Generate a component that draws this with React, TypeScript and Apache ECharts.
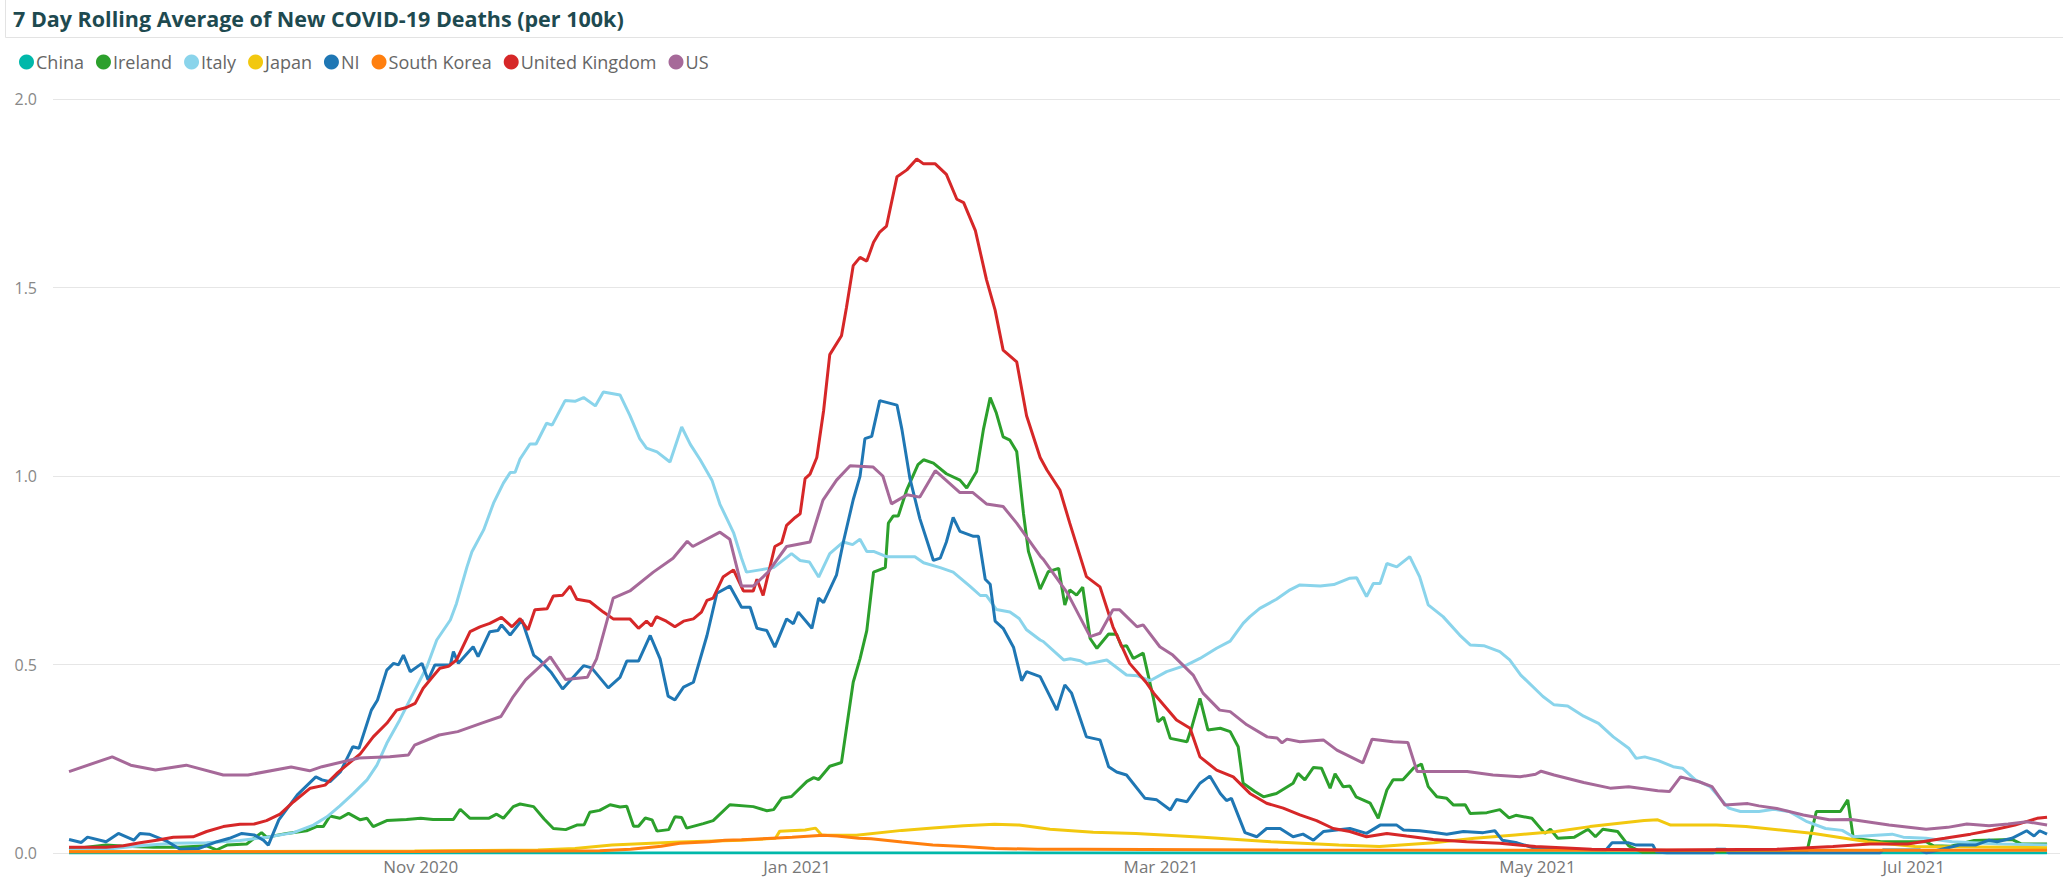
import React, { useEffect, useRef } from 'react';
import * as echarts from 'echarts';

// Day 0 = 1 Sep 2020; each pair is [day offset, 7-day average deaths per 100k]
const COUNTRIES = ['China', 'Ireland', 'Italy', 'Japan', 'NI', 'South Korea', 'United Kingdom', 'US'];
const COLORS = ['#01B8AA', '#2CA02C', '#8AD4EB', '#F2C80F', '#1F77B4', '#FF7F0E', '#D62728', '#A66999'];

const CHINA = [[4, 0], [80, 0], [160, 0], [240, 0], [324.6, 0]];

const IRELAND = [
  [4, 0.01], [10, 0.021], [13, 0.018], [17.7, 0.015], [22, 0.015], [26.3, 0.019], [27.9, 0.008], [29.6, 0.021],
  [32.8, 0.024], [35.2, 0.054], [36, 0.042], [39.3, 0.052], [42.5, 0.059], [44.1, 0.07], [45.2, 0.07], [46.3, 0.098],
  [47.9, 0.092], [49.3, 0.105], [51.2, 0.088], [52.3, 0.092], [53.3, 0.07], [55.5, 0.086], [58.7, 0.089], [61, 0.092],
  [63, 0.089], [66.3, 0.089], [67.4, 0.116], [69, 0.092], [72, 0.092], [73.3, 0.103], [74.4, 0.092], [76, 0.123],
  [77.1, 0.13], [79.3, 0.123], [81, 0.09], [82.5, 0.065], [84.5, 0.062], [86.3, 0.074], [87.5, 0.075], [88.4, 0.108],
  [90, 0.113], [91.7, 0.128], [93.3, 0.122], [94.4, 0.124], [95.5, 0.071], [96.3, 0.071], [97.4, 0.093], [98.5, 0.088],
  [99.3, 0.058], [101.2, 0.062], [102.2, 0.096], [103.3, 0.094], [104.1, 0.066], [106.8, 0.078], [108.4, 0.086],
  [111.1, 0.128], [114.9, 0.123], [117.1, 0.112], [118.2, 0.115], [119.5, 0.145], [121.1, 0.15], [123.6, 0.19],
  [124.7, 0.2], [125.5, 0.195], [127.3, 0.23], [129.2, 0.24], [131.1, 0.453], [132.2, 0.515], [133.3, 0.59],
  [134.4, 0.745], [136.3, 0.757], [136.8, 0.875], [137.6, 0.894], [138.4, 0.894], [139.8, 0.964], [141.6, 1.03],
  [142.5, 1.043], [144.1, 1.034], [146.2, 1.006], [148.4, 0.989], [149.5, 0.968], [151.1, 1.012], [152.2, 1.123],
  [153.3, 1.208], [154.3, 1.167], [155.4, 1.104], [156.5, 1.095], [157.6, 1.065], [158.7, 0.9], [159.5, 0.8],
  [161.4, 0.7], [162.7, 0.746], [164.4, 0.755], [165.4, 0.658], [166.2, 0.698], [167.3, 0.684], [168.3, 0.705],
  [169.5, 0.569], [170.6, 0.543], [172.5, 0.581], [173.8, 0.58], [174.6, 0.547], [175.4, 0.55], [176.5, 0.516],
  [178.1, 0.53], [179.7, 0.415], [180.5, 0.348], [181.4, 0.36], [182.5, 0.304], [185.2, 0.295], [186, 0.335],
  [187.3, 0.41], [188.6, 0.326], [190.6, 0.331], [192.2, 0.322], [193.5, 0.282], [194.3, 0.185], [196.2, 0.163],
  [197.6, 0.149], [199.7, 0.158], [202.4, 0.185], [203.2, 0.211], [204.3, 0.194], [205.7, 0.227], [207, 0.225],
  [208.4, 0.172], [209.2, 0.21], [210.5, 0.176], [211.6, 0.178], [212.6, 0.149], [214.9, 0.132], [216.2, 0.092],
  [217.6, 0.167], [218.6, 0.194], [220.2, 0.194], [221.9, 0.225], [223.2, 0.236], [224.3, 0.176], [225.7, 0.149],
  [227.3, 0.145], [228.4, 0.127], [230.3, 0.128], [231.1, 0.105], [233.8, 0.107], [235.9, 0.115], [237.4, 0.093],
  [238.5, 0.1], [241.1, 0.092], [243.2, 0.052], [244.1, 0.063], [245.3, 0.039], [248, 0.042], [250.2, 0.063],
  [251.4, 0.043], [252.6, 0.063], [255, 0.057], [256.8, 0.019], [259, 0.002], [272, 0.003], [285.7, 0.005],
  [287.2, 0.11], [291.1, 0.11], [292.3, 0.141], [293.2, 0.039], [297.7, 0.03], [305, 0.03], [306.2, 0.019],
  [309, 0.018], [312.8, 0.033], [318.9, 0.036], [320.4, 0.024], [324.6, 0.024]
];

const ITALY = [
  [4, 0.008], [10, 0.01], [15.5, 0.019], [20.9, 0.026], [26.3, 0.027], [31.7, 0.033], [36, 0.042], [40.4, 0.054],
  [43.6, 0.074], [45.8, 0.096], [47.9, 0.125], [50.1, 0.158], [52.3, 0.194], [53.9, 0.233], [55.5, 0.291],
  [57.6, 0.353], [59.8, 0.424], [62, 0.494], [63.6, 0.565], [65.8, 0.618], [66.8, 0.662], [68.5, 0.759],
  [69.3, 0.799], [71.2, 0.857], [72.8, 0.928], [74.4, 0.981], [75.5, 1.009], [76.3, 1.01], [77.1, 1.045],
  [78.7, 1.085], [79.7, 1.085], [81.4, 1.14], [82.3, 1.135], [84.4, 1.2], [86, 1.198], [87.4, 1.208], [89.3, 1.186],
  [90.6, 1.223], [93.3, 1.215], [94.9, 1.161], [96.5, 1.099], [97.6, 1.074], [99.3, 1.064], [101.4, 1.037],
  [103.3, 1.13], [104.7, 1.084], [106.3, 1.043], [108.2, 0.989], [109.5, 0.925], [111.7, 0.85], [113, 0.782],
  [113.8, 0.745], [116, 0.751], [118.2, 0.757], [121.1, 0.794], [122.5, 0.776], [124, 0.772], [125.5, 0.732],
  [127.3, 0.794], [129.5, 0.825], [131, 0.818], [132.2, 0.832], [133.3, 0.8], [134.4, 0.8], [136.5, 0.786],
  [141.1, 0.786], [142.5, 0.77], [145.2, 0.757], [147.3, 0.745], [150, 0.708], [151.7, 0.683], [152.7, 0.683],
  [154.3, 0.646], [156.5, 0.639], [158, 0.622], [159.2, 0.592], [161.4, 0.565], [161.9, 0.561], [165.2, 0.512],
  [166.3, 0.515], [167.9, 0.51], [168.9, 0.501], [172.2, 0.512], [175.4, 0.472], [177.2, 0.47], [179.2, 0.457],
  [181.9, 0.481], [185.2, 0.499], [187.3, 0.516], [190, 0.543], [192.2, 0.562], [194.3, 0.609], [195.4, 0.627],
  [197, 0.649], [199.7, 0.673], [201.9, 0.698], [203.5, 0.711], [206.8, 0.708], [209, 0.712], [211.6, 0.729],
  [212.7, 0.73], [214.3, 0.68], [215.4, 0.715], [216.5, 0.715], [217.6, 0.768], [219.2, 0.759], [221.3, 0.786],
  [222.9, 0.733], [224.3, 0.658], [226.7, 0.627], [229.4, 0.578], [231.1, 0.552], [233.3, 0.55], [235.9, 0.534],
  [237.5, 0.512], [239.3, 0.472], [242.9, 0.415], [244.7, 0.393], [246.9, 0.39], [249.5, 0.363], [251.9, 0.344],
  [254.3, 0.308], [256.8, 0.278], [258, 0.251], [259.4, 0.255], [261.6, 0.245], [264, 0.229], [265.5, 0.225],
  [267.6, 0.194], [270, 0.176], [273, 0.119], [274.9, 0.11], [277.9, 0.11], [280.3, 0.116], [282.8, 0.11],
  [285.7, 0.083], [288.7, 0.065], [291.4, 0.06], [293.2, 0.043], [295, 0.045], [299.5, 0.05], [301.3, 0.042],
  [305, 0.039], [309.2, 0.03], [317, 0.024], [324.6, 0.021]
];

const JAPAN = [
  [4, 0.004], [30, 0.004], [60, 0.005], [80, 0.008], [86, 0.012], [92, 0.021], [103, 0.029], [113, 0.034],
  [118.5, 0.039], [119.2, 0.058], [123.3, 0.061], [125, 0.066], [126, 0.047], [131.6, 0.047], [139, 0.06],
  [144, 0.066], [149, 0.072], [154, 0.076], [158, 0.074], [163, 0.063], [170, 0.055], [176.9, 0.052],
  [187.8, 0.042], [198.8, 0.03], [209.8, 0.021], [216.4, 0.017], [225.2, 0.027], [231.8, 0.039], [238.4, 0.048],
  [245, 0.057], [250.5, 0.07], [259.3, 0.086], [261.5, 0.088], [263.6, 0.074], [271, 0.074], [275.8, 0.07],
  [286.8, 0.052], [295.5, 0.03], [303.2, 0.017], [324.6, 0.014]
];

const NI = [
  [4, 0.036], [6, 0.028], [7, 0.042], [10, 0.03], [12, 0.052], [14.5, 0.034], [15.5, 0.052], [17, 0.05],
  [20, 0.03], [22, 0.01], [25, 0.012], [28, 0.03], [30, 0.039], [32, 0.052], [34, 0.048], [35.5, 0.034],
  [36.3, 0.021], [38, 0.088], [41, 0.154], [44, 0.202], [45, 0.194], [46.3, 0.189], [48, 0.216], [50, 0.282],
  [51, 0.278], [53, 0.379], [54, 0.406], [55.5, 0.485], [56.6, 0.503], [57.4, 0.499], [58.2, 0.525],
  [59.3, 0.481], [61.2, 0.503], [62.2, 0.459], [63.3, 0.499], [65.8, 0.499], [66.3, 0.534], [67.1, 0.503],
  [69.5, 0.547], [70.3, 0.521], [72.2, 0.587], [73.5, 0.59], [74.1, 0.605], [75.5, 0.578], [77.4, 0.618],
  [79.3, 0.525], [80.3, 0.512], [82.2, 0.478], [84, 0.435], [87.4, 0.497], [88.7, 0.491], [91.4, 0.438],
  [93.3, 0.466], [94.4, 0.509], [96.3, 0.509], [98.2, 0.577], [99.8, 0.515], [101.1, 0.416], [102.2, 0.406],
  [103.6, 0.44], [105.2, 0.453], [107.4, 0.577], [109, 0.689], [111.1, 0.708], [113, 0.652], [114.4, 0.652],
  [115.5, 0.596], [117.1, 0.59], [118.4, 0.546], [120.3, 0.621], [121.4, 0.608], [122.2, 0.639], [124.4, 0.596],
  [125.5, 0.676], [126.3, 0.664], [128.4, 0.738], [129.5, 0.825], [131.1, 0.937], [132.2, 0.999], [133, 1.099],
  [134.1, 1.105], [135.4, 1.2], [138.2, 1.188], [139, 1.123], [140.3, 0.993], [141.9, 0.887], [144.1, 0.776],
  [145.2, 0.782], [146.2, 0.825], [147.3, 0.89], [148.4, 0.853], [150.6, 0.84], [151.4, 0.84], [152.5, 0.726],
  [153.3, 0.713], [154.1, 0.615], [155.4, 0.596], [157.1, 0.545], [158.4, 0.457], [159.2, 0.481], [161.4, 0.468],
  [164.1, 0.379], [165.4, 0.446], [166.5, 0.424], [168.9, 0.308], [171.1, 0.3], [172.5, 0.229], [173.8, 0.215],
  [175.4, 0.207], [178.4, 0.145], [180.3, 0.141], [182.5, 0.114], [183.5, 0.142], [185.2, 0.136], [187.3, 0.185],
  [188.9, 0.204], [190.6, 0.158], [191.6, 0.139], [192.4, 0.145], [194.6, 0.054], [196.5, 0.043], [198.1, 0.065],
  [200.3, 0.065], [202.4, 0.043], [204, 0.05], [205.7, 0.034], [207.3, 0.057], [211.6, 0.065], [214.3, 0.052],
  [216.5, 0.074], [219.2, 0.074], [220.3, 0.061], [222.9, 0.059], [225, 0.055], [227.3, 0.05], [230, 0.057],
  [233.2, 0.054], [235.1, 0.059], [236.3, 0.034], [238.7, 0.027], [241.7, 0.012], [253.1, 0.008], [254.1, 0.027],
  [256.8, 0.027], [258, 0.021], [260.7, 0.021], [261.3, 0.003], [263, 0], [270.5, 0], [271, 0.01], [272.5, 0.01],
  [273, 0], [297.5, 0], [298, 0.008], [304, 0.008], [305, 0], [310.4, 0.021], [313, 0.021], [315.2, 0.034],
  [316.5, 0.03], [318.9, 0.039], [321.3, 0.059], [322.5, 0.045], [323.4, 0.059], [324.6, 0.05]
];

const SOUTH_KOREA = [
  [4, 0.003], [60, 0.004], [90, 0.006], [95, 0.01], [100, 0.018], [103, 0.026], [107.8, 0.03], [110.3, 0.034],
  [113, 0.035], [121.2, 0.042], [126.2, 0.047], [128.5, 0.045], [132, 0.039], [134, 0.038], [139, 0.029],
  [144, 0.021], [149, 0.017], [154, 0.012], [161, 0.01], [168, 0.01], [200, 0.008], [250, 0.007], [300, 0.007],
  [324.6, 0.007]
];

const UK = [
  [4, 0.015], [10, 0.015], [12.8, 0.019], [15.5, 0.027], [18.2, 0.034], [20.9, 0.042], [24.1, 0.043], [26.3, 0.057],
  [29, 0.07], [31.7, 0.076], [34, 0.077], [36, 0.086], [38.2, 0.103], [40.4, 0.136], [43.1, 0.172], [45.5, 0.18],
  [47.4, 0.211], [49, 0.233], [51.2, 0.263], [53.3, 0.308], [55.5, 0.344], [57.1, 0.379], [58.7, 0.386],
  [60.1, 0.397], [61.4, 0.437], [63, 0.469], [64.1, 0.49], [65.5, 0.495], [66.8, 0.512], [69, 0.587], [70.6, 0.6],
  [72.2, 0.609], [74.1, 0.625], [75.8, 0.6], [77.1, 0.622], [78.4, 0.592], [79.5, 0.645], [81.5, 0.648],
  [82.5, 0.682], [84, 0.684], [85.2, 0.708], [86.3, 0.673], [88.4, 0.667], [90.6, 0.639], [92.2, 0.621],
  [94.9, 0.621], [96.3, 0.596], [97.6, 0.615], [98.4, 0.602], [99.2, 0.627], [100.8, 0.615], [102.2, 0.6],
  [103.6, 0.615], [105.2, 0.621], [106.5, 0.639], [107.4, 0.67], [108.4, 0.676], [110, 0.732], [111.7, 0.751],
  [113.3, 0.695], [114.9, 0.695], [115.5, 0.726], [116.5, 0.683], [118.4, 0.813], [119.5, 0.823], [120.3, 0.869],
  [121.7, 0.89], [122.5, 0.9], [123.3, 0.993], [124.1, 1.005], [125.2, 1.049], [126.3, 1.173], [127.3, 1.322],
  [129.2, 1.372], [130, 1.446], [131.1, 1.558], [132.2, 1.58], [133.3, 1.57], [134.4, 1.62], [135.4, 1.647],
  [136.5, 1.663], [138.2, 1.794], [139.8, 1.812], [141.4, 1.841], [142.5, 1.828], [144.4, 1.828], [146.2, 1.8],
  [147.9, 1.734], [149, 1.725], [150.9, 1.651], [152.7, 1.521], [154.1, 1.44], [155.4, 1.334], [157.6, 1.303],
  [159.2, 1.16], [161.4, 1.049], [162.5, 1.016], [164.6, 0.963], [166.2, 0.875], [168.9, 0.733], [171.1, 0.706],
  [173.2, 0.6], [175.9, 0.503], [178.7, 0.45], [179.8, 0.424], [183.5, 0.353], [185.7, 0.331], [187.3, 0.255],
  [190, 0.22], [192.7, 0.202], [195.4, 0.158], [198.1, 0.132], [200.8, 0.119], [203.5, 0.101], [206.2, 0.086],
  [208.9, 0.065], [211.6, 0.057], [214.3, 0.043], [217.6, 0.052], [220.8, 0.045], [225.1, 0.036], [230.5, 0.03],
  [235.9, 0.026], [241.7, 0.017], [250.8, 0.01], [263, 0.008], [280.8, 0.01], [289.9, 0.017], [295.9, 0.024],
  [302, 0.024], [308, 0.039], [312.2, 0.05], [315.8, 0.061], [319.4, 0.074], [323, 0.092], [324.6, 0.095]
];

const US = [
  [4, 0.216], [11, 0.255], [14, 0.233], [18, 0.22], [23, 0.233], [29, 0.207], [33, 0.207], [40, 0.228],
  [43, 0.218], [45, 0.229], [51, 0.252], [56, 0.255], [59, 0.26], [60, 0.286], [64, 0.313], [67, 0.322],
  [71, 0.345], [74, 0.362], [76, 0.415], [78, 0.459], [82, 0.52], [84.5, 0.46], [88, 0.466], [89.5, 0.515],
  [92.2, 0.676], [94.9, 0.695], [98.7, 0.745], [101.9, 0.782], [104.2, 0.827], [105.1, 0.813], [109.5, 0.851],
  [111.1, 0.832], [113, 0.708], [114.9, 0.708], [117.3, 0.745], [120.3, 0.813], [124.1, 0.825], [126.2, 0.936],
  [128.4, 0.989], [130.6, 1.027], [134.3, 1.024], [135.9, 1.0], [137.3, 0.926], [139.8, 0.95], [141.9, 0.944],
  [144.4, 1.014], [148.4, 0.956], [150.5, 0.956], [152.7, 0.926], [155.4, 0.919], [157.6, 0.875], [161.4, 0.788],
  [162, 0.777], [165.8, 0.69], [169.5, 0.574], [171.1, 0.583], [173.2, 0.645], [174.3, 0.645], [177.1, 0.6],
  [178.1, 0.605], [180.8, 0.547], [182.9, 0.525], [186.2, 0.472], [187.8, 0.424], [190.5, 0.379], [192.2, 0.375],
  [194.9, 0.34], [198.2, 0.308], [199.8, 0.305], [200.6, 0.292], [201.4, 0.302], [203.5, 0.295], [207.3, 0.3],
  [209.5, 0.273], [213.7, 0.239], [215.2, 0.302], [218.6, 0.295], [221, 0.293], [222.5, 0.216], [230.6, 0.216],
  [234.8, 0.207], [239.2, 0.202], [241.7, 0.209], [242.6, 0.217], [244.7, 0.207], [249.5, 0.187], [253.8, 0.172],
  [256.8, 0.176], [261.5, 0.165], [263.4, 0.163], [265.2, 0.202], [268.2, 0.189], [270.3, 0.176], [272.4, 0.127],
  [276.1, 0.131], [277.9, 0.125], [280.8, 0.118], [285.1, 0.101], [289.3, 0.088], [292.9, 0.089], [299, 0.074],
  [305, 0.063], [308.5, 0.068], [311.6, 0.077], [315.2, 0.072], [318.3, 0.077], [321.3, 0.083], [324.6, 0.074]
];

const SERIES_DATA = [CHINA, IRELAND, ITALY, JAPAN, NI, SOUTH_KOREA, UK, US];

const X_LABEL_DATES = ['2020-11-01', '2021-01-01', '2021-03-01', '2021-05-01', '2021-07-01'];
const X_LABELS = ['Nov 2020', 'Jan 2021', 'Mar 2021', 'May 2021', 'Jul 2021'];
const Y_MIN = 0;
const Y_MAX = 2;
const Y_STEP = 0.5;
const AXIS_START_DAY = 1.4;
const AXIS_END_DAY = 326.7;

const DAY_MS = 86400000;
const START = Date.UTC(2020, 8, 1);
const toTime = (d: number) => START + d * DAY_MS;
const parseUTC = (s: string) => {
  const [y, m, d] = s.split('-').map(Number);
  return Date.UTC(y, m - 1, d);
};

const FONT = "'Open Sans', sans-serif";

export default function App() {
  const ref = useRef<HTMLDivElement>(null);
  useEffect(() => {
    if (!ref.current) return;
    const chart = echarts.init(ref.current, undefined, { renderer: 'svg' });
    const labelTimes = X_LABEL_DATES.map(parseUTC);
    chart.setOption({
      animation: false,
      backgroundColor: '#ffffff',
      textStyle: { fontFamily: FONT },
      title: {
        text: '7 Day Rolling Average of New COVID-19 Deaths (per 100k)',
        left: 13,
        top: 7,
        padding: 0,
        textStyle: { fontFamily: FONT, fontSize: 21.5, fontWeight: 'bold', color: '#1E4A50' }
      },
      graphic: [
        {
          type: 'rect',
          shape: { x: 5.5, y: -2, width: 2100, height: 39.5 },
          style: { fill: 'none', stroke: '#e3e3e3', lineWidth: 1 },
          silent: true
        }
      ],
      legend: {
        data: COUNTRIES,
        left: 19,
        top: 53,
        padding: 0,
        icon: 'circle',
        itemWidth: 15,
        itemHeight: 15,
        itemGap: 12,
        textStyle: { fontFamily: FONT, fontSize: 18, color: '#666666', padding: [0, 0, 0, -3] }
      },
      grid: { left: 53, right: 3, top: 99, bottom: 29 },
      xAxis: {
        type: 'value',
        min: toTime(AXIS_START_DAY),
        max: toTime(AXIS_END_DAY),
        axisLine: { show: false },
        axisTick: { show: false },
        splitLine: { show: false },
        axisLabel: {
          customValues: labelTimes,
          fontFamily: FONT,
          fontSize: 17,
          color: '#777777',
          margin: 5,
          formatter: (v: number) => {
            const i = labelTimes.findIndex((t) => Math.abs(t - v) < 6 * 3600000);
            return i >= 0 ? X_LABELS[i] : '';
          }
        }
      },
      yAxis: {
        type: 'value',
        min: Y_MIN,
        max: Y_MAX,
        interval: Y_STEP,
        axisLine: { show: false },
        axisTick: { show: false },
        splitLine: { lineStyle: { color: '#e6e6e6', width: 1 } },
        axisLabel: {
          fontFamily: FONT,
          fontSize: 16,
          color: '#888888',
          margin: 16,
          formatter: (v: number) => v.toFixed(1)
        }
      },
      series: COUNTRIES.map((name, i) => ({
        name,
        type: 'line',
        showSymbol: false,
        symbol: 'none',
        smooth: false,
        color: COLORS[i],
        lineStyle: { width: 3, color: COLORS[i] },
        data: SERIES_DATA[i].map(([d, v]) => [toTime(d), v])
      }))
    });
    return () => chart.dispose();
  }, []);
  return (
    <div
      ref={ref}
      style={{ position: 'fixed', left: 0, top: 0, width: '2063px', height: '882px', background: '#fff' }}
    />
  );
}
